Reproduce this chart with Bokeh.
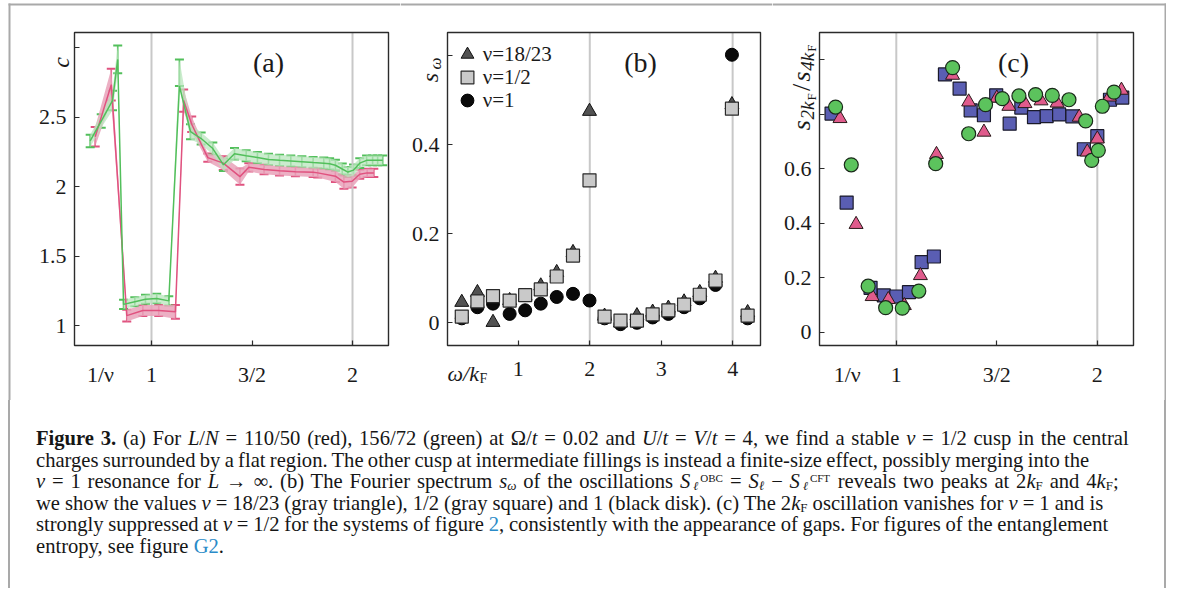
import math
from bokeh.plotting import figure
from bokeh.models import (ColumnDataSource, Whisker, TeeHead, Label, FixedTicker,
                          Legend, LegendItem, Div, Range1d, BoxAnnotation)
from bokeh.layouts import row, column
from bokeh.embed import file_html
from bokeh.resources import INLINE

SERIF = "Liberation Serif"
AXC = "#2b2b2b"
FRAME_GRAY = "#a9a9a9"

# ---------------- panel (a): central charge c vs 1/nu ----------------
a_red_x = [0.72, 0.80, 0.877, 0.957, 1.036, 1.119, 1.16, 1.20, 1.28, 1.357, 1.44, 1.484,
           1.56, 1.637, 1.716, 1.804, 1.827, 1.915, 1.957, 1.998, 2.036, 2.073, 2.106]
a_red_y = [2.36, 2.735, 1.073, 1.11, 1.11, 1.10, 2.62, 2.45, 2.21, 2.17, 2.073, 2.14,
           2.125, 2.116, 2.109, 2.104, 2.10, 2.076, 2.034, 2.04, 2.09, 2.10, 2.10]
a_red_err = [0.07, 0.114, 0.042, 0.039, 0.039, 0.05, 0.08, 0.055, 0.03, 0.05, 0.058, 0.03,
             0.035, 0.034, 0.034, 0.033, 0.033, 0.042, 0.048, 0.045, 0.032, 0.03, 0.03]

a_green_x = [0.695, 0.75, 0.806, 0.832, 0.861, 0.917, 0.97, 1.026, 1.086, 1.139, 1.194,
             1.247, 1.305, 1.358, 1.413, 1.471, 1.527, 1.582, 1.637, 1.693, 1.748, 1.804,
             1.857, 1.886, 1.915, 1.949, 1.977, 2.005, 2.036, 2.07, 2.10, 2.125, 2.15]
a_green_y = [2.33, 2.473, 2.62, 2.916, 1.154, 1.173, 1.191, 1.196, 1.179, 2.725, 2.396,
             2.347, 2.275, 2.158, 2.238, 2.223, 2.21, 2.197, 2.19, 2.185, 2.18, 2.174,
             2.17, 2.165, 2.155, 2.128, 2.106, 2.12, 2.17, 2.19, 2.19, 2.19, 2.19]
a_green_err_lo = [0.045, 0.048, 0.07, 0.10, 0.033, 0.033, 0.033, 0.034, 0.034, 0.0, 0.054,
                  0.043, 0.043, 0.045, 0.041, 0.04, 0.04, 0.04, 0.04, 0.04, 0.04, 0.04,
                  0.04, 0.04, 0.04, 0.04, 0.036, 0.04, 0.035, 0.035, 0.035, 0.035, 0.035]
a_green_err_hi = [0.045, 0.048, 0.07, 0.10, 0.033, 0.033, 0.033, 0.034, 0.034, 0.19, 0.054,
                  0.043, 0.043, 0.045, 0.041, 0.04, 0.04, 0.04, 0.04, 0.04, 0.04, 0.04,
                  0.04, 0.04, 0.04, 0.04, 0.036, 0.04, 0.035, 0.035, 0.035, 0.035, 0.035]

a_xlim = (0.617, 2.179)
a_ylim = (0.858, 3.11)
a_guides = [1, 2]
a_y_ticks = [1, 1.5, 2, 2.5]
a_y_labels = ["1", "1.5", "2", "2.5"]
a_y_minor = [3]
a_x_ticks = [0.746, 1, 1.5, 2]
a_x_labels = ["1/ν", "1", "3/2", "2"]
a_x_minor = [1, 1.5, 2]

# ---------------- panel (b): Fourier spectrum ----------------
b_omega = [0.208, 0.427, 0.645, 0.878, 1.095, 1.314, 1.537, 1.765, 1.996, 2.207, 2.43,
           2.66, 2.88, 3.10, 3.32, 3.54, 3.76, 3.99, 4.21]
b_tri = [0.046, 0.068, 0.001, 0.05, 0.06, 0.083, 0.113, 0.158, 0.475, 0.015, 0.0,
         0.016, 0.024, 0.033, 0.047, 0.068, 0.10, 0.49, 0.023]
b_sq = [0.014, 0.048, 0.06, 0.05, 0.062, 0.075, 0.104, 0.151, 0.32, 0.014, 0.005,
        0.005, 0.019, 0.028, 0.041, 0.063, 0.095, 0.481, 0.016]
b_circ = [0.01, 0.035, 0.043, 0.02, 0.028, 0.043, 0.058, 0.065, 0.05, 0.01, -0.003,
          0.0, 0.012, 0.02, 0.035, 0.055, 0.085, 0.602, 0.01]
b_names = ["ν=18/23", "ν=1/2", "ν=1"]
b_xlim = (0.008, 4.39)
b_ylim = (-0.051, 0.652)
b_guides = [2, 4]
b_x_ticks = [1, 2, 3, 4]
b_x_labels = ["1", "2", "3", "4"]
b_y_ticks = [0, 0.2, 0.4]
b_y_labels = ["0", "0.2", "0.4"]
b_y_minor = [0.6]

# ---------------- panel (c): s_2kF / s_4kF ----------------
c_sq_x = [0.678, 0.753, 0.872, 0.938, 1.0, 1.063, 1.126, 1.187, 1.242, 1.315, 1.37, 1.436,
          1.497, 1.564, 1.622, 1.685, 1.748, 1.81, 1.876, 1.933, 2.0, 2.063, 2.124]
c_sq_y = [0.803, 0.476, 0.163, 0.135, 0.131, 0.147, 0.257, 0.278, 0.947, 0.895, 0.815, 0.797,
          0.87, 0.766, 0.825, 0.79, 0.794, 0.80, 0.793, 0.672, 0.72, 0.854, 0.862]
c_tri_x = [0.72, 0.80, 0.88, 0.96, 1.04, 1.12, 1.20, 1.28, 1.36, 1.436, 1.50, 1.56, 1.64,
           1.72, 1.80, 1.91, 1.95, 2.0, 2.06, 2.12]
c_tri_y = [0.785, 0.396, 0.131, 0.12, 0.098, 0.208, 0.653, 0.944, 0.846, 0.735, 0.86, 0.83,
           0.84, 0.85, 0.842, 0.79, 0.662, 0.71, 0.864, 0.889]
c_circ_x = [0.698, 0.776, 0.86, 0.947, 1.03, 1.112, 1.196, 1.28, 1.36, 1.444, 1.527, 1.61,
            1.693, 1.776, 1.859, 1.942, 1.972, 2.005, 2.025, 2.083]
c_circ_y = [0.827, 0.615, 0.169, 0.09, 0.088, 0.151, 0.619, 0.972, 0.729, 0.836, 0.858, 0.868,
            0.873, 0.87, 0.854, 0.776, 0.631, 0.668, 0.83, 0.882]
c_xlim = (0.618, 2.18)
c_ylim = (-0.049, 1.101)
c_guides = [1, 2]
c_y_ticks = [0, 0.2, 0.4, 0.6]
c_y_labels = ["0", "0.2", "0.4", "0.6"]
c_y_minor = [0.8, 1.0]
c_x_ticks = [0.756, 1, 1.5, 2]
c_x_labels = ["1/ν", "1", "3/2", "2"]
c_x_minor = [1, 1.5, 2]

TICK_FONT = "22px"

# page-pixel layout (the page origin is the top-left corner of the window)
FIG_TOP, FIG_BOTTOM = 0, 400
BOX_TOP, BOX_BOTTOM = 32, 345


def make_panel(fx0, fx1, bx0, bx1, xlim, ylim):
    sx = (bx1 - bx0) / (xlim[1] - xlim[0])
    sy = (BOX_BOTTOM - BOX_TOP) / (ylim[1] - ylim[0])
    xr = (xlim[0] - (bx0 - fx0) / sx, xlim[1] + (fx1 - bx1) / sx)
    yr = (ylim[0] - (FIG_BOTTOM - BOX_BOTTOM) / sy, ylim[1] + (BOX_TOP - FIG_TOP) / sy)
    p = figure(x_range=Range1d(*xr), y_range=Range1d(*yr), frame_width=fx1 - fx0,
               frame_height=FIG_BOTTOM - FIG_TOP, min_border=0,
               output_backend="svg", toolbar_location=None)
    p.xgrid.visible = False
    p.ygrid.visible = False
    p.outline_line_color = None
    p.background_fill_color = "white"
    p.border_fill_color = "white"
    p.xaxis.fixed_location = ylim[0]
    p.yaxis.fixed_location = xlim[0]

    def tx(px):
        return xlim[0] + (px - bx0) / sx

    def ty(py):
        return ylim[0] + (BOX_BOTTOM - py) / sy

    return p, tx, ty


def finish_box(p, xlim, ylim):
    p.add_layout(BoxAnnotation(left=xlim[0], right=xlim[1], bottom=ylim[0], top=ylim[1],
                               fill_color=None, fill_alpha=0, line_color=AXC,
                               line_width=1.4, line_alpha=1.0))


def guides(p, xs, ylim):
    p.segment(x0=xs, x1=xs, y0=[ylim[0]] * len(xs), y1=[ylim[1]] * len(xs),
              line_color="#c8c8c8", line_width=2)


def style_axis(ax, major, labels, minor, standoff, show_major=True):
    ax.ticker = FixedTicker(ticks=major, minor_ticks=minor)
    ax.major_label_overrides = {t: l for t, l in zip(major, labels)}
    ax.major_tick_in = 5
    ax.major_tick_out = 0
    ax.minor_tick_in = 5
    ax.minor_tick_out = 0
    ax.major_tick_line_color = AXC if show_major else None
    ax.minor_tick_line_color = AXC
    ax.major_tick_line_width = 1.2
    ax.minor_tick_line_width = 1.2
    ax.axis_line_color = None
    ax.major_label_standoff = standoff
    ax.major_label_text_font = SERIF
    ax.major_label_text_font_size = TICK_FONT
    ax.major_label_text_color = "#1a1a1a"


def lab(p, x, y, text, size, italic=False, angle=0.0, align="center"):
    p.add_layout(Label(x=x, y=y, text=text, angle=angle, text_align=align,
                       text_baseline="middle", text_font=SERIF,
                       text_font_style="italic" if italic else "normal",
                       text_font_size=size, text_color="#1a1a1a"))


def strip(p, tx, ty, x0, x1, y0, y1):
    # a piece of the grey page frame, given in page pixels
    p.add_layout(BoxAnnotation(left=tx(x0), right=tx(x1), top=ty(y0), bottom=ty(y1),
                               fill_color=FRAME_GRAY, fill_alpha=1.0, line_color=None))


# ---------- build (a)
pa, ax_, ay_ = make_panel(0, 400, 74, 388, a_xlim, a_ylim)
style_axis(pa.xaxis[0], a_x_ticks, a_x_labels, a_x_minor, 16, show_major=False)
style_axis(pa.yaxis[0], a_y_ticks, a_y_labels, a_y_minor, 8)
guides(pa, a_guides, a_ylim)

RED_LINE, RED_BAND = "#e0527f", "#e9a2ba"
GRN_LINE, GRN_BAND = "#52bf5b", "#b9e5bd"

red_src = ColumnDataSource(dict(x=a_red_x, y=a_red_y,
                                lo=[y - e for y, e in zip(a_red_y, a_red_err)],
                                hi=[y + e for y, e in zip(a_red_y, a_red_err)]))
grn_src = ColumnDataSource(dict(x=a_green_x, y=a_green_y,
                                lo=[y - e for y, e in zip(a_green_y, a_green_err_lo)],
                                hi=[y + e for y, e in zip(a_green_y, a_green_err_hi)]))
pa.varea(x="x", y1="lo", y2="hi", source=red_src, fill_color=RED_BAND, fill_alpha=0.85)
pa.varea(x="x", y1="lo", y2="hi", source=grn_src, fill_color=GRN_BAND, fill_alpha=0.75)
pa.line("x", "y", source=red_src, line_color=RED_LINE, line_width=1.5)
pa.line("x", "y", source=grn_src, line_color=GRN_LINE, line_width=1.5)
for src, col in ((red_src, RED_LINE), (grn_src, GRN_LINE)):
    pa.add_layout(Whisker(source=src, base="x", lower="lo", upper="hi", line_color=col,
                          line_width=1.6,
                          lower_head=TeeHead(size=9, line_color=col, line_width=2),
                          upper_head=TeeHead(size=9, line_color=col, line_width=2)))
finish_box(pa, a_xlim, a_ylim)
lab(pa, ax_(268), ay_(62), "(a)", "28px")
lab(pa, ax_(60), ay_(62), "c", "24px", italic=True, angle=math.pi / 2)
strip(pa, ax_, ay_, 8, 400, 3, 5)
strip(pa, ax_, ay_, 8, 10, 3, 400)

# ---------- build (b)
pb, bx_, by_ = make_panel(400, 772, 447, 760, b_xlim, b_ylim)
style_axis(pb.xaxis[0], b_x_ticks, b_x_labels, [], 16)
style_axis(pb.yaxis[0], b_y_ticks, b_y_labels, b_y_minor, 8)
guides(pb, b_guides, b_ylim)
r_tri = pb.scatter(b_omega, b_tri, marker="triangle", size=14, fill_color="#525252",
                   line_color="#111111", line_width=1)
r_circ = pb.scatter(b_omega, b_circ, marker="circle", size=13, fill_color="#0a0a0a",
                    line_color="#000000", line_width=1)
r_sq = pb.scatter(b_omega, b_sq, marker="square", size=13, fill_color="#c9c9c9",
                  line_color="#2a2a2a", line_width=1.2)
# one single-item legend per row (page centre y of each row)
for name, rend, row_cy in zip(b_names, [r_tri, r_sq, r_circ], [54.3, 77.3, 100.0]):
    pb.add_layout(Legend(items=[LegendItem(label=name, renderers=[rend])],
                         location=(50.7, FIG_BOTTOM - row_cy - 16), margin=0, padding=0,
                         spacing=0, glyph_width=32, glyph_height=32, label_height=20,
                         label_standoff=0, border_line_color=None,
                         background_fill_alpha=0.0, label_text_font=SERIF,
                         label_text_font_size="21px", label_text_color="#1a1a1a"))
finish_box(pb, b_xlim, b_ylim)
lab(pb, bx_(640), by_(62), "(b)", "28px")
lab(pb, bx_(429), by_(77), "s", "24px", italic=True, angle=math.pi / 2)
lab(pb, bx_(434.5), by_(63), "ω", "17px", italic=True, angle=math.pi / 2)
lab(pb, bx_(447), by_(373), "ω/k", "22px", italic=True, align="left")
lab(pb, bx_(479), by_(378), "F", "14px", align="left")
strip(pb, bx_, by_, 400, 772, 3, 5)

# ---------- build (c)
pc, cx_, cy_ = make_panel(772, 1166, 819, 1133, c_xlim, c_ylim)
style_axis(pc.xaxis[0], c_x_ticks, c_x_labels, c_x_minor, 16, show_major=False)
style_axis(pc.yaxis[0], c_y_ticks, c_y_labels, c_y_minor, 8)
guides(pc, c_guides, c_ylim)
pc.scatter(c_sq_x, c_sq_y, marker="square", size=13, fill_color="#5a5eb3",
           line_color="#1a1a2a", line_width=1.2)
pc.scatter(c_tri_x, c_tri_y, marker="triangle", size=14, fill_color="#e05b8c",
           line_color="#2a1a1a", line_width=1)
pc.scatter(c_circ_x, c_circ_y, marker="circle", size=14, fill_color="#5cc35d",
           line_color="#1a2a1a", line_width=1.2)
finish_box(pc, c_xlim, c_ylim)
lab(pc, cx_(1013), cy_(62), "(c)", "28px")
for txt, size, px, py, it in [("s", "26px", 800.5, 124.7, True),
                              ("2k", "19px", 806.5, 110.0, True),
                              ("F", "13px", 810.5, 96.5, False),
                              ("/", "26px", 800.5, 86.9, False),
                              ("s", "26px", 800.5, 76.0, True),
                              ("4k", "19px", 806.5, 61.2, True),
                              ("F", "13px", 810.5, 47.7, False)]:
    lab(pc, cx_(px), cy_(py), txt, size, italic=it, angle=math.pi / 2)
strip(pc, cx_, cy_, 772, 1166, 3, 5)
strip(pc, cx_, cy_, 1164, 1166, 3, 400)

# ---------------- caption ----------------
BLUE = "#2a8bc8"


def sub(s):
    return f'<span style="font-size:13px;vertical-align:-2px;line-height:0">{s}</span>'


def stack(top, bot, w):
    return (f'<span style="display:inline-block;position:relative;width:{w}px;height:1px;margin-left:3px">'
            f'<span style="position:absolute;left:0px;bottom:-3.5px;font-size:12px;line-height:12px"><i>{bot}</i></span>'
            f'<span style="position:absolute;left:7px;bottom:4.7px;font-size:11px;line-height:11px">{top}</span>'
            '</span>')


lines = [
    '<b>Figure 3.</b> (a) For <i>L</i>/<i>N</i> = 110/50 (red), 156/72 (green) at Ω/<i>t</i> = 0.02 '
    'and <i>U</i>/<i>t</i> = <i>V</i>/<i>t</i> = 4, we find a stable <i>ν</i> = 1/2 cusp in the central',
    'charges surrounded by a flat region. The other cusp at intermediate fillings is instead a '
    'finite-size effect, possibly merging into the',
    f'<i>ν</i> = 1 resonance for <i>L</i> → ∞. (b) The Fourier spectrum <i>s</i>{sub("<i>ω</i>")} of the '
    f'oscillations <i>S</i>{stack("OBC", "ℓ", 30)} = <i>S</i>{sub("<i>ℓ</i>")} − <i>S</i>{stack("CFT", "ℓ", 28)} '
    f'reveals two peaks at 2<i>k</i>{sub("F")} and 4<i>k</i>{sub("F")};',
    f'we show the values <i>ν</i> = 18/23 (gray triangle), 1/2 (gray square) and 1 (black disk). '
    f'(c) The 2<i>k</i>{sub("F")} oscillation vanishes for <i>ν</i> = 1 and is',
    f'strongly suppressed at <i>ν</i> = 1/2 for the systems of figure <span style="color:{BLUE}">2</span>, '
    'consistently with the appearance of gaps. For figures of the entanglement',
    f'entropy, see figure <span style="color:{BLUE}">G2</span>.',
]
word_sp = [1.6, -0.85, 1.7, -0.1, -0.4, 0.0]
html = ('<div style="box-sizing:border-box;margin-left:8px;width:1158px;height:188px;'
        f'border-left:2px solid {FRAME_GRAY};border-right:2px solid {FRAME_GRAY};'
        'padding:28px 0 0 26px;font-family:\'Liberation Serif\';font-size:20.6px;'
        'line-height:21.6px;color:#161616;">'
        + "".join(f'<div style="white-space:nowrap;height:21.6px;word-spacing:{ws}px">{ln}</div>'
                  for ln, ws in zip(lines, word_sp))
        + '</div>')
div = Div(text=html, width=1166, height=188, margin=0)

root = column(row(pa, pb, pc), div)

open("out.html", "w").write(file_html(root, INLINE))
